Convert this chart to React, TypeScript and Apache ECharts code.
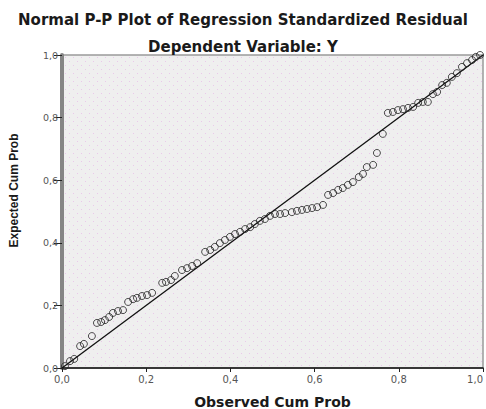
import React, { useEffect, useRef } from "react";
import * as echarts from "echarts";

const titleText = "Normal P-P Plot of Regression Standardized Residual";
const subtitleText = "Dependent Variable: Y";
const xAxisName = "Observed Cum Prob";
const yAxisName = "Expected Cum Prob";

// Observed cumulative probability (x) of each residual point
const obsCumProb = [
  0.007, 0.019, 0.029, 0.043, 0.052, 0.071, 0.083, 0.093, 0.102, 0.112,
  0.121, 0.133, 0.145, 0.157, 0.169, 0.178, 0.190, 0.202, 0.214, 0.238,
  0.247, 0.259, 0.268, 0.285, 0.297, 0.309, 0.321, 0.340, 0.352, 0.363,
  0.375, 0.387, 0.399, 0.411, 0.423, 0.435, 0.447, 0.458, 0.470, 0.482,
  0.494, 0.506, 0.518, 0.530, 0.546, 0.558, 0.570, 0.582, 0.594, 0.606,
  0.620, 0.632, 0.644, 0.656, 0.667, 0.679, 0.691, 0.705, 0.715, 0.724,
  0.739, 0.748, 0.762, 0.774, 0.786, 0.798, 0.810, 0.822, 0.834, 0.846,
  0.857, 0.869, 0.881, 0.891, 0.903, 0.914, 0.926, 0.938, 0.950, 0.962,
  0.974, 0.983, 0.993,
];

// Expected cumulative probability (y) of each residual point
const expCumProb = [
  0.006, 0.022, 0.029, 0.070, 0.077, 0.102, 0.144, 0.147, 0.153, 0.163,
  0.176, 0.182, 0.185, 0.211, 0.220, 0.224, 0.230, 0.233, 0.240, 0.272,
  0.275, 0.281, 0.294, 0.313, 0.319, 0.326, 0.335, 0.371, 0.377, 0.387,
  0.399, 0.409, 0.419, 0.428, 0.435, 0.444, 0.450, 0.460, 0.470, 0.476,
  0.486, 0.492, 0.492, 0.495, 0.498, 0.502, 0.505, 0.508, 0.511, 0.514,
  0.521, 0.553, 0.559, 0.569, 0.575, 0.585, 0.594, 0.610, 0.620, 0.642,
  0.649, 0.687, 0.748, 0.815, 0.818, 0.824, 0.827, 0.831, 0.834, 0.847,
  0.850, 0.850, 0.875, 0.882, 0.904, 0.911, 0.930, 0.942, 0.962, 0.974,
  0.984, 0.994, 1.000,
];

// Reference diagonal (expected = observed)
const diagonal = [
  [0, 0],
  [1, 1],
];

const axisMin = 0;
const axisMax = 1;
const axisStep = 0.2;

const fmt = (v: number) => v.toFixed(1).replace(".", ",");

function makeDotPattern(): HTMLCanvasElement | string {
  try {
    const c = document.createElement("canvas");
    c.width = 8;
    c.height = 8;
    const ctx = c.getContext("2d");
    if (!ctx) return "#efefef";
    ctx.fillStyle = "#efefef";
    ctx.fillRect(0, 0, 8, 8);
    ctx.fillStyle = "#e9c9ea";
    ctx.fillRect(1, 1, 1, 1);
    ctx.fillRect(5, 5, 1, 1);
    return c;
  } catch (e) {
    return "#efefef";
  }
}

export default function App() {
  const ref = useRef<HTMLDivElement>(null);

  useEffect(() => {
    if (!ref.current) return;
    const chart = echarts.init(ref.current, undefined, { renderer: "svg" });
    const points = obsCumProb.map((x, i) => [x, expCumProb[i]]);
    const wide = "'DejaVu Sans', Verdana, sans-serif";
    const narrow = "Arial, 'Liberation Sans', sans-serif";
    const pat = makeDotPattern();
    const bg = typeof pat === "string" ? pat : { image: pat, repeat: "repeat" };

    chart.setOption({
      animation: false,
      backgroundColor: "#ffffff",
      title: [
        {
          text: titleText,
          left: "center",
          top: 7,
          textStyle: { fontFamily: wide, fontSize: 15, fontWeight: "bold", color: "#1a1a1a" },
        },
        {
          text: subtitleText,
          left: "center",
          top: 34,
          textStyle: { fontFamily: wide, fontSize: 15, fontWeight: "bold", color: "#1a1a1a" },
        },
      ],
      grid: {
        left: 62,
        right: 3,
        top: 55,
        bottom: 41,
        outerBoundsMode: "none",
        containLabel: false,
        show: true,
        backgroundColor: bg,
        borderColor: "#9a9a9a",
        borderWidth: 1.5,
      },
      xAxis: {
        type: "value",
        min: axisMin,
        max: axisMax,
        interval: axisStep,
        name: xAxisName,
        nameLocation: "middle",
        nameGap: 27,
        nameTextStyle: { fontFamily: wide, fontSize: 14, fontWeight: "bold", color: "#1a1a1a" },
        axisLine: { show: true, onZero: false, lineStyle: { color: "#111", width: 1.5 } },
        axisTick: { show: true, inside: false, length: 4, lineStyle: { color: "#222", width: 1 } },
        axisLabel: {
          formatter: fmt,
          margin: 6,
          fontFamily: wide,
          fontSize: 10,
          color: "#555",
          alignMaxLabel: "right",
        },
        splitLine: { show: false },
      },
      yAxis: {
        type: "value",
        min: axisMin,
        max: axisMax,
        interval: axisStep,
        name: yAxisName,
        nameLocation: "middle",
        nameGap: 42,
        nameTextStyle: {
          fontFamily: narrow,
          fontSize: 12,
          fontWeight: "bold",
          color: "#1a1a1a",
          padding: [0, 0, 0, 42],
        },
        axisLine: { show: true, onZero: false, lineStyle: { color: "#858585", width: 4 } },
        axisTick: { show: true, inside: false, length: 8, lineStyle: { color: "#222", width: 1 } },
        axisLabel: { formatter: fmt, margin: 4, fontFamily: wide, fontSize: 9.5, color: "#555" },
        splitLine: { show: false },
      },
      series: [
        {
          type: "line",
          data: diagonal,
          symbol: "none",
          lineStyle: { color: "#111", width: 1.3 },
          z: 2,
          silent: true,
        },
        {
          type: "scatter",
          data: points,
          symbol: "circle",
          symbolSize: 7,
          itemStyle: { color: "rgba(0,0,0,0)", borderColor: "#222", borderWidth: 1 },
          z: 3,
        },
      ],
    });

    return () => chart.dispose();
  }, []);

  return <div ref={ref} style={{ width: 486, height: 409, position: "absolute", left: 0, top: 0 }} />;
}
